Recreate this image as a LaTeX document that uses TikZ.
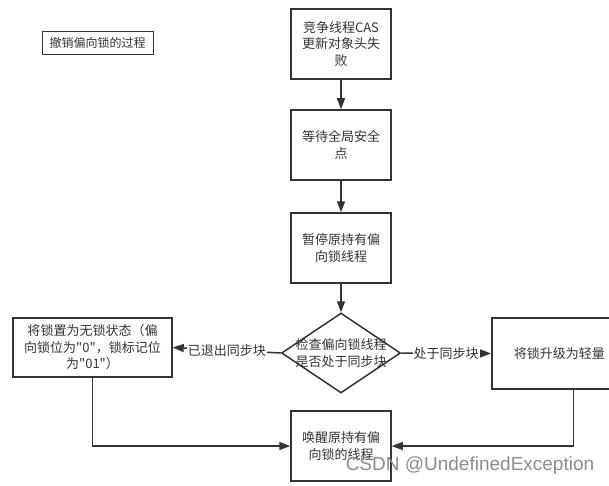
\documentclass[tikz,border=0pt]{standalone}
\usepackage{fontspec}
\setmainfont{Noto Sans CJK SC}
\newfontfamily\plaincjk{Noto Sans CJK SC}
\newfontfamily\wmfont{Liberation Sans}
\usetikzlibrary{arrows.meta,shapes.geometric}
\definecolor{linegray}{HTML}{333333}
\definecolor{wmgray}{HTML}{8C8C8C}
\tikzset{
	stepbox/.style={draw=linegray, line width=1.5pt, minimum width=100pt, minimum height=70pt,
		inner sep=0pt, align=center, text=linegray, font=\fontsize{13}{16.5}\selectfont},
	flow/.style={draw=linegray, line width=1.5pt, -{Triangle[length=11pt,width=8pt]}},
	branch/.style={fill=white, inner sep=1pt, text=linegray, font=\fontsize{13}{16}\selectfont}
}
\begin{document}
\begin{tikzpicture}[x=1pt, y=-1pt]

		\useasboundingbox (0,0) rectangle (609,486);

		% title
		\node[draw=linegray, line width=0.8pt, minimum width=111pt, minimum height=23pt, inner sep=0pt,
			text=linegray, font=\fontsize{12}{14}\selectfont] (title) at (97.5,42.5) {撤销偏向锁的过程};

		% main column
		\node[stepbox] (cas) at (341,44) {竞争线程CAS\\更新对象头失\\败};
		\node[stepbox] (wait) at (341,145) {等待全局安全\\点};
		\node[stepbox] (pause) at (341,248) {暂停原持有偏\\向锁线程};
		\node[draw=linegray, line width=1.5pt, diamond, minimum width=119pt, minimum height=80pt,
			inner sep=0pt] (check) at (341,353) {};
		\node[align=center, text=linegray, font=\fontsize{13}{16.5}\selectfont] (checktext) at (check)
			{检查偏向锁线程\\是否处于同步块};
		\node[stepbox] (wake) at (341,446) {唤醒原持有偏\\向锁的线程};

		% branches
		\node[stepbox, minimum width=159pt, minimum height=59pt,
			font=\plaincjk\fontsize{13}{16.5}\selectfont] (unlock) at (92.5,347.5)
			{将锁置为无锁状态（偏\\向锁位为"0"，锁标记位\\为"01"）};
		\node[stepbox, anchor=west, minimum height=71pt, text width=120pt, inner xsep=22pt,
			align=left] (upgrade) at (491,353.5) {将锁升级为轻量};

		% arrows
		\draw[flow] (cas) -- (wait);
		\draw[flow] (wait) -- (pause);
		\draw[flow] (pause) -- (check);
		\draw[flow] (check.west) -- node[branch] {已退出同步块} (unlock.east);
		\draw[flow] (check.east) -- node[branch] {处于同步块} (upgrade.west);
		\draw[flow] (unlock.south) |- (wake.west);
		\draw[flow, line width=1.2pt] (upgrade.south) |- (wake.east);

		% watermark
		\node[text=wmgray, inner sep=0pt, font=\wmfont\fontsize{19}{19}\selectfont] (watermark)
			at (470,466) {CSDN @UndefinedException};

\end{tikzpicture}
\end{document}
